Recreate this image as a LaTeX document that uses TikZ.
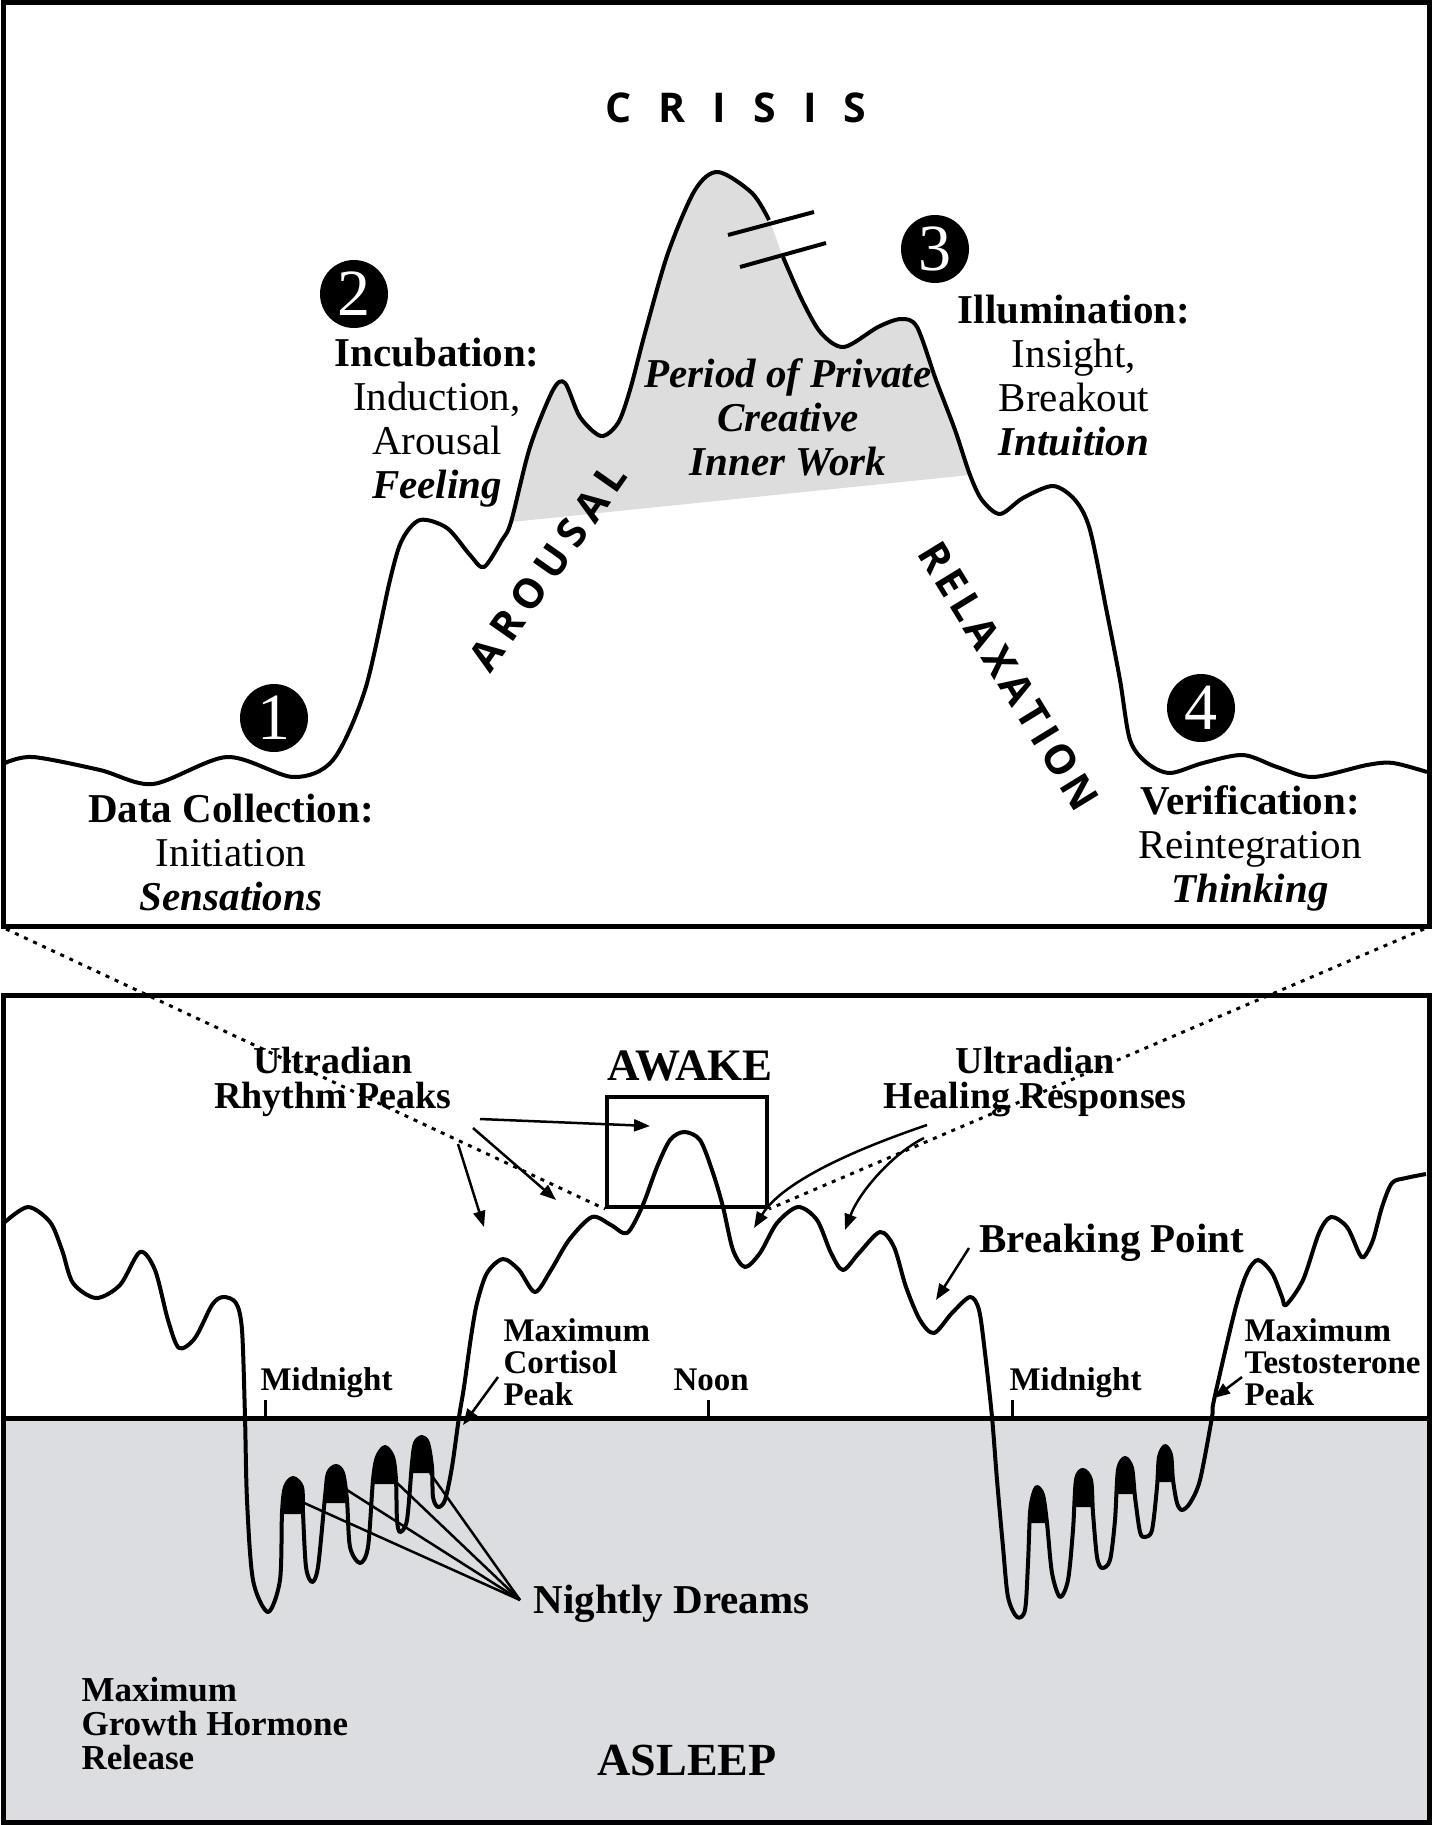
\documentclass[tikz,border=0pt]{standalone}
\usepackage{fontspec}
\setmainfont{Liberation Serif}
\newfontfamily\headsans{Open Sans}
\usetikzlibrary{arrows.meta}
\definecolor{nightgray}{RGB}{220,221,224}
\definecolor{peakgray}{RGB}{221,221,222}

% curve of the creative cycle, cut by the break mark
\def\riseA{plot[smooth] coordinates {(5,763) (33,757) (100,770) (153,784) (227,757) (293,777) (333,760) (365,690) (390,580) (402,540) (420,520) (447,528) (470,555) (484,567) (502,540) (511,522) (530,447) (553,390) (565,383) (580,417) (601,436) (618,423) (630,390) (645,333) (668,253) (695,190) (718,172) (752,193) (769,220)}}
\def\fallB{plot[smooth] coordinates {(783,257) (802,300) (821,333) (844,347) (878,327) (901,319) (917,327) (936,380) (955,430) (970,475) (982,500) (1000,514) (1023,498) (1053,486) (1075,500) (1090,530) (1107,613) (1120,680) (1130,740) (1147,763) (1170,773) (1203,763) (1243,755) (1277,767) (1313,777) (1367,765) (1393,763) (1427,772)}}
% curve of the day and night
\def\daycurve{plot[smooth] coordinates {(5,1222) (28,1207) (50,1222) (62,1250) (73,1283) (96,1298) (120,1285) (140,1252) (155,1270) (168,1320) (179,1348) (195,1338) (212,1305) (223,1297) (236,1303) (242,1330) (245,1417) (247,1500) (253,1580) (268,1612) (280,1580) (282,1513) (285,1487) (293,1478) (302,1487) (303,1513) (306,1567) (312,1582) (318,1567) (325,1497) (328,1473) (336,1466) (343,1473) (347,1500) (350,1547) (360,1563) (368,1547) (373,1480) (377,1457) (385,1447) (393,1457) (396,1480) (397,1520) (400,1532) (407,1520) (412,1463) (415,1443) (422,1437) (428,1443) (432,1467) (433,1497) (438,1507) (445,1500) (452,1467) (459,1417) (464,1387) (471,1337) (477,1303) (487,1273) (503,1259) (519,1270) (535,1292) (551,1270) (569,1240) (592,1217) (611,1225) (627,1233) (642,1207) (657,1167) (670,1140) (684,1132) (700,1140) (713,1173) (723,1207) (733,1250) (745,1267) (760,1253) (777,1223) (798,1207) (817,1220) (831,1253) (843,1270) (859,1253) (880,1232) (894,1247) (906,1287) (920,1320) (934,1333) (952,1313) (970,1297) (979,1310) (985,1353) (992,1417) (997,1480) (1003,1547) (1008,1597) (1017,1617) (1025,1610) (1028,1563) (1030,1513) (1033,1495) (1037,1487) (1043,1495) (1047,1523) (1052,1573) (1060,1597) (1068,1580) (1073,1530) (1076,1480) (1083,1470) (1091,1480) (1093,1513) (1097,1557) (1102,1568) (1110,1560) (1115,1520) (1118,1470) (1125,1458) (1132,1468) (1135,1497) (1140,1532) (1145,1537) (1152,1530) (1157,1487) (1159,1457) (1165,1446) (1171,1455) (1173,1480) (1177,1503) (1182,1510) (1190,1503) (1200,1480) (1212,1417) (1214,1400) (1235,1310) (1247,1273) (1258,1260) (1272,1273) (1282,1297) (1286,1305) (1303,1280) (1319,1233) (1331,1217) (1347,1227) (1359,1253) (1364,1257) (1373,1240) (1382,1207) (1392,1183) (1406,1178) (1426,1174)}}

\begin{document}
\begin{tikzpicture}[
    x=1pt, y=-1pt,
    panel/.style={line width=5pt},
    wave/.style={line width=4pt, line join=round},
    stage/.style={circle, fill=black, text=white, minimum size=68pt, inner sep=0pt, font=\fontsize{66}{66}\selectfont},
    phase/.style={align=center, anchor=base, font=\fontsize{41}{44}\selectfont},
    spaced/.style={font=\fontsize{41}{41}\selectfont\headsans\bfseries},
    note/.style={align=center, anchor=base, font=\fontsize{38}{35}\selectfont\bfseries},
    tag/.style={align=left, anchor=base west, font=\fontsize{33}{32}\selectfont\bfseries},
    pointer/.style={-{Triangle[length=16pt,width=12pt]}, line width=2.5pt},
    dotline/.style={line width=3pt, dash pattern=on 4pt off 6pt}
]
\useasboundingbox (0,0) rectangle (1432,1825);
\fill[white] (0,0) rectangle (1432,1825);

% asleep band
\fill[nightgray] (3,1418) rectangle (1429,1822);

% private work area
\fill[peakgray] plot[smooth] coordinates {(511,522) (530,447) (553,390) (565,383) (580,417) (601,436) (618,423) (630,390) (645,333) (668,253) (695,190) (718,172) (752,193) (769,220) (783,257) (802,300) (821,333) (844,347) (878,327) (901,319) (917,327) (936,380) (955,430) (970,475)} -- cycle;

% curves
\draw[wave] \riseA;
\draw[wave] \fallB;
\draw[wave] \daycurve;

% dream caps
\begin{scope}
\clip (276,1460) rectangle (309,1514) (320,1450) rectangle (353,1503) (368,1435) rectangle (403,1484) (408,1425) rectangle (438,1473)
      (1022,1475) rectangle (1052,1523) (1068,1460) rectangle (1098,1507) (1110,1448) rectangle (1140,1494) (1152,1436) rectangle (1178,1482);
\fill \daycurve -- (1429,1822) -- (3,1822) -- cycle;
\end{scope}

% panels
\draw[panel] (3,3) rectangle (1429,926);
\draw[panel] (3,995) rectangle (1429,1822);
\draw[panel] (3,1418) -- (1429,1418);
\draw[line width=3pt] (265,1418) -- (265,1400);
\draw[line width=3pt] (708,1418) -- (708,1400);
\draw[line width=3pt] (1012,1418) -- (1012,1400);

% break mark
\draw[line width=4pt] (728,235) -- (814,212);
\draw[line width=4pt] (740,267) -- (826,243);

% top panel texts
\node[spaced, anchor=base] (crisis) at (736,123) {C\hspace{27pt}R\hspace{27pt}I\hspace{27pt}S\hspace{27pt}I\hspace{27pt}S};
\node[spaced, rotate=55] (arousal) at (548,567) {A\hspace{8pt}R\hspace{8pt}O\hspace{8pt}U\hspace{8pt}S\hspace{8pt}A\hspace{8pt}L};
\node[spaced, rotate=-58.5] (relax) at (1009,676) {R\hspace{5pt}E\hspace{5pt}L\hspace{5pt}A\hspace{5pt}X\hspace{5pt}A\hspace{5pt}T\hspace{5pt}I\hspace{5pt}O\hspace{5pt}N};

\node[stage] (one) at (274,718) {1};
\node[stage] (two) at (354,294) {2};
\node[stage] (three) at (935,249) {3};
\node[stage] (four) at (1201,708) {4};

% (base of a block = baseline of its last line)
\node[phase] (collect) at (231,910) {\textbf{Data Collection:}\\Initiation\\\textbf{\textit{Sensations}}};
\node[phase] (incubate) at (437,498) {\textbf{Incubation:}\\Induction,\\Arousal\\\textbf{\textit{Feeling}}};
\node[phase] (illumine) at (1074,455) {\textbf{Illumination:}\\Insight,\\Breakout\\\textbf{\textit{Intuition}}};
\node[phase] (verify) at (1250,902) {\textbf{Verification:}\\Reintegration\\\textbf{\textit{Thinking}}};
\node[phase, font=\fontsize{41}{44}\selectfont\bfseries\itshape] (private) at (788,475) {Period of Private\\Creative\\Inner Work};

% bottom panel texts
\node[anchor=base, font=\fontsize{45}{45}\selectfont\bfseries] (awake) at (690,1080) {AWAKE};
\node[anchor=base, font=\fontsize{46}{46}\selectfont\bfseries] (asleep) at (687,1775) {ASLEEP};
\node[note] (rhythm) at (333,1108) {Ultradian\\Rhythm Peaks};
\node[note] (healing) at (1035,1108) {Ultradian\\Healing Responses};
\node[tag, font=\fontsize{41}{41}\selectfont\bfseries] (breaking) at (976,1252) {Breaking Point};
\node[tag] (mid1) at (257,1390) {Midnight};
\node[tag] (noon) at (670,1390) {Noon};
\node[tag] (mid2) at (1006,1390) {Midnight};
\node[tag] (cortisol) at (500,1405) {Maximum\\Cortisol\\Peak};
\node[tag] (testo) at (1241,1405) {Maximum\\Testosterone\\Peak};
\node[tag, font=\fontsize{41}{41}\selectfont\bfseries] (dreams) at (530,1613) {Nightly Dreams};
\node[tag, font=\fontsize{35}{34}\selectfont\bfseries] (growth) at (78,1769) {Maximum\\Growth Hormone\\Release};

% zoom box
\node[draw, line width=4pt, minimum width=160pt, minimum height=110pt, inner sep=0pt] (zoombox) at (687,1152) {};

% arrow ends
\coordinate (rA) at (480,1119);
\coordinate (rB) at (473,1128);
\coordinate (rC) at (458,1144);
\coordinate (peakTop) at (650,1126);
\coordinate (peakMid) at (556,1200);
\coordinate (peakLow) at (484,1227);
\coordinate (hA) at (927,1125);
\coordinate (hB) at (924,1138);
\coordinate (troughA) at (754,1228);
\coordinate (troughB) at (845,1230);
\coordinate (bp) at (969,1248);
\coordinate (bpDip) at (936,1300);
\coordinate (cp) at (498,1377);
\coordinate (cpRise) at (463,1425);
\coordinate (tp) at (1242,1377);
\coordinate (tpRise) at (1214,1398);
\coordinate (dn) at (520,1600);
\coordinate (dream1) at (302,1502);
\coordinate (dream2) at (347,1490);
\coordinate (dream3) at (395,1481);
\coordinate (dream4) at (430,1473);
\coordinate (cornerL) at (6,929);
\coordinate (cornerR) at (1424,929);

\draw[pointer] (rA) -- (peakTop);
\draw[pointer] (rB) -- (peakMid);
\draw[pointer] (rC) -- (peakLow);
\draw[pointer] (hA) .. controls (862,1147) and (783,1180) .. (troughA);
\draw[pointer] (hB) .. controls (895,1152) and (860,1190) .. (troughB);
\draw[pointer] (bp) -- (bpDip);
\draw[pointer] (cp) -- (cpRise);
\draw[pointer] (tp) -- (tpRise);
\foreach \d in {dream1,dream2,dream3,dream4}
  \draw[line width=2.5pt] (dn) -- (\d);

% projection of the crisis panel
\draw[dotline] (cornerL) -- (zoombox.south west);
\draw[dotline] (cornerR) -- (zoombox.south east);
\end{tikzpicture}
\end{document}
